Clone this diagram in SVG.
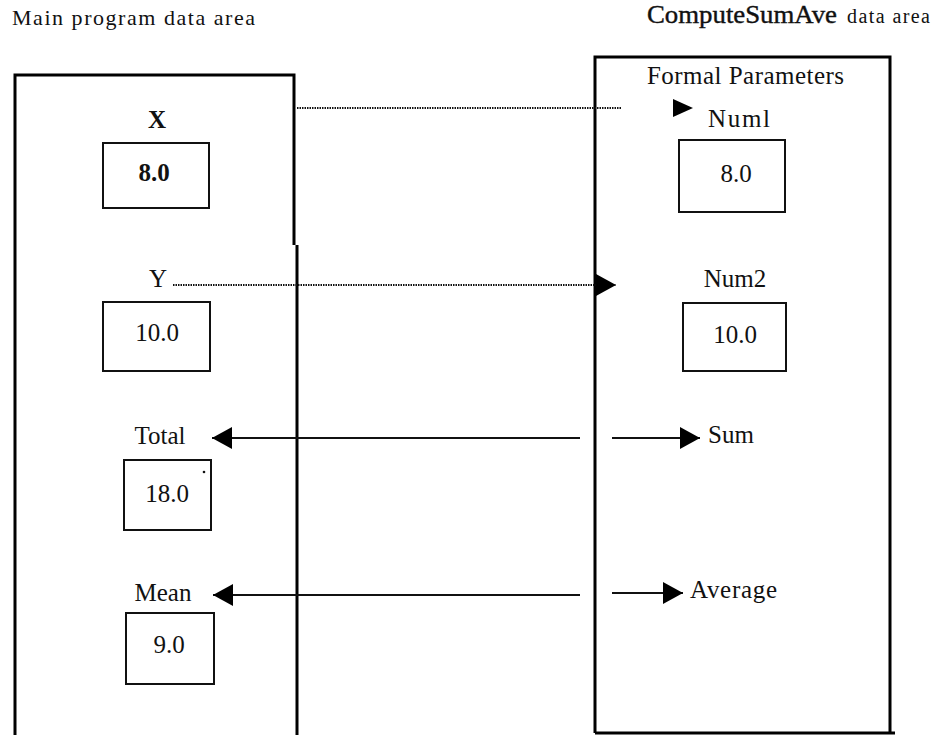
<svg xmlns="http://www.w3.org/2000/svg" width="938" height="735" viewBox="0 0 938 735">
  <style>
    .t { font-family: "Liberation Serif", "Times New Roman", serif; font-size: 25px; fill: #111; }
    .hd { font-family: "Liberation Serif", "Times New Roman", serif; font-size: 22px; fill: #111; }
    .sm { font-family: "Liberation Serif", "Times New Roman", serif; font-size: 20px; fill: #111; }
    .bold { font-weight: bold; }
    .frame { fill: none; stroke: #000; stroke-width: 3; }
    .cell { fill: none; stroke: #111; stroke-width: 2; }
    .solid { stroke: #111; stroke-width: 2; fill: none; }
    .dotted { stroke: #111; stroke-width: 2; stroke-dasharray: 1.5 1; fill: none; }
    .head { fill: #000; }
  </style>
  <defs>
    <marker id="arrow" markerWidth="22" markerHeight="22" refX="20" refY="11" orient="auto" markerUnits="userSpaceOnUse">
      <polygon class="head" points="0,0 20,11 0,22"/>
    </marker>
  </defs>

  <!-- area headings -->
  <text class="hd" x="12" y="25" textLength="243" lengthAdjust="spacing">Main program data area</text>
  <text class="t" x="647" y="23" stroke="#111" stroke-width="0.4" textLength="190" lengthAdjust="spacingAndGlyphs">ComputeSumAve</text>
  <text class="sm" x="847" y="23" textLength="83" lengthAdjust="spacing">data area</text>

  <!-- main program frame -->
  <g id="main-area">
    <path class="frame" d="M15,735 L15,75 L294,75 L294,245"/>
    <path class="frame" d="M297,245 L297,735" stroke-width="2.5"/>
  </g>

  <!-- ComputeSumAve frame -->
  <g id="sub-area">
    <path class="frame" d="M595,733 L595,57 L890,57 L890,733"/>
    <path class="frame" d="M595,733 L895,733"/>
    <text class="t" x="647" y="84" textLength="197" lengthAdjust="spacing">Formal Parameters</text>
  </g>

  <!-- main program variables -->
  <g id="var-x">
    <text class="t bold" x="157" y="128" text-anchor="middle">X</text>
    <rect class="cell" x="103" y="143" width="106" height="65"/>
    <text class="t bold" x="154" y="181" text-anchor="middle">8.0</text>
  </g>
  <g id="var-y">
    <text class="t" x="158" y="287" text-anchor="middle">Y</text>
    <rect class="cell" x="103" y="302" width="107" height="69"/>
    <text class="t" x="157" y="341" text-anchor="middle">10.0</text>
  </g>
  <g id="var-total">
    <text class="t" x="160" y="444" text-anchor="middle">Total</text>
    <rect class="cell" x="124" y="460" width="87" height="70"/>
    <text class="t" x="167" y="502" text-anchor="middle">18.0</text>
    <circle cx="204" cy="472" r="1.3" fill="#111"/>
  </g>
  <g id="var-mean">
    <text class="t" x="163" y="601" text-anchor="middle">Mean</text>
    <rect class="cell" x="126" y="613" width="88" height="71"/>
    <text class="t" x="169" y="653" text-anchor="middle">9.0</text>
  </g>

  <!-- formal parameters -->
  <g id="param-num1">
    <text class="t" x="708" y="127" textLength="62" lengthAdjust="spacing">Numl</text>
    <rect class="cell" x="679" y="140" width="106" height="72"/>
    <text class="t" x="736" y="182" text-anchor="middle">8.0</text>
  </g>
  <g id="param-num2">
    <text class="t" x="735" y="287" text-anchor="middle">Num2</text>
    <rect class="cell" x="683" y="303" width="103" height="68"/>
    <text class="t" x="735" y="343" text-anchor="middle">10.0</text>
  </g>
  <g id="param-sum">
    <text class="t" x="708" y="443">Sum</text>
  </g>
  <g id="param-average">
    <text class="t" x="690" y="598" textLength="87" lengthAdjust="spacing">Average</text>
  </g>

  <!-- parameter passing connectors -->
  <g id="connectors">
    <!-- value parameters: copies passed in -->
    <path class="dotted" d="M297,108 L622,108"/>
    <polygon class="head" points="673,99 693,108 673,117"/>
    <path class="dotted" d="M173,285 L616,285" marker-end="url(#arrow)"/>
    <!-- reference parameters: shared storage -->
    <path class="solid" d="M580,438 L212,438" marker-end="url(#arrow)"/>
    <path class="solid" d="M612,438 L700,438" marker-end="url(#arrow)"/>
    <path class="solid" d="M580,595 L213,595" marker-end="url(#arrow)"/>
    <path class="solid" d="M612,593 L683,593" marker-end="url(#arrow)"/>
  </g>
</svg>
